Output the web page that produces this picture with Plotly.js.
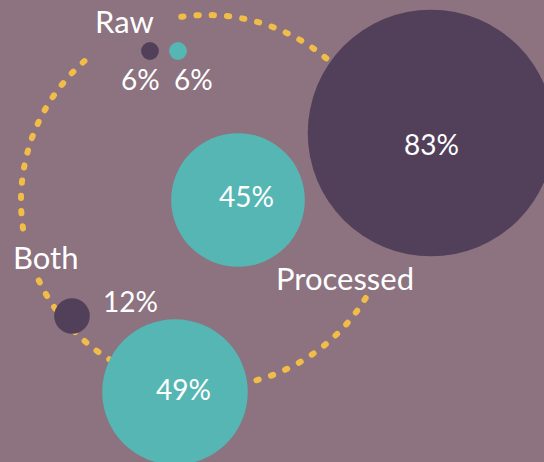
<!DOCTYPE html>
<html>
<head>
<meta charset="utf-8">
<script src="https://cdn.plot.ly/plotly-3.0.1.min.js"></script>
<style>
html, body { margin: 0; padding: 0; background: #8C737F; }
#chart { width: 544px; height: 462px; }
.shapelayer path { stroke-linecap: round; }
</style>
</head>
<body>
<div id="chart"></div>
<script>
// ---- data ----
const categories = ['Raw', 'Processed', 'Both'];
const purpleValues = [6, 83, 12];
const tealValues = [6, 45, 49];

// ---- layout (pixel-space positions of bubbles and labels) ----
const purpleX = [150, 431, 72];
const purpleY = [51, 133, 316];
const tealX = [178, 238, 175];
const tealY = [51, 200, 392];

const purpleLabelX = [140, 431, 130];
const purpleLabelY = [79, 144, 301];
const tealLabelX = [193, 246, 183];
const tealLabelY = [79, 196, 389];

const categoryLabelX = [124, 345, 46];
const categoryLabelY = [21, 278, 257];

const BG = '#8C737F';
const PURPLE = '#52405B';
const TEAL = '#56B6B4';
const YELLOW = '#F1BC48';
const FONT = 'Lato, "Open Sans", sans-serif';

// dashed ring
const ring = {cx: 207, cy: 201, r: 186};
function buildDash(R, gapsDeg, dash, space, cap) {
  const C = 2 * Math.PI * R;
  const gaps = gapsDeg.map(g => [g[0] * Math.PI / 180 * R, g[1] * Math.PI / 180 * R]);
  const arr = [];
  let s = 0;
  while (s < C) {
    const g = gaps.find(g => (s - cap) < g[1] && (s + dash + cap) > g[0]);
    if (g) {
      const skip = Math.max(g[1] + cap - s, 1);
      if (arr.length === 0) { arr.push(0); arr.push(skip); }
      else arr[arr.length - 1] += skip;
      s += skip;
      continue;
    }
    arr.push(dash); arr.push(space);
    s += dash + space;
  }
  return arr.map(v => v.toFixed(2) + 'px').join(',');
}
const ringDash = buildDash(ring.r, [[13, 30.5], [156.5, 170.5], [231, 261]], 2.3, 13, 3);

const scale = 2.97;

const traces = [
  {
    type: 'scatter', mode: 'markers', name: 'purple',
    x: purpleX, y: purpleY, text: categories,
    marker: {size: purpleValues, sizemode: 'diameter', sizeref: 1 / scale, color: PURPLE, opacity: 1, line: {width: 0}},
    hoverinfo: 'skip', cliponaxis: false
  },
  {
    type: 'scatter', mode: 'markers', name: 'teal',
    x: tealX, y: tealY, text: categories,
    marker: {size: tealValues, sizemode: 'diameter', sizeref: 1 / scale, color: TEAL, opacity: 1, line: {width: 0}},
    hoverinfo: 'skip', cliponaxis: false
  }
];

const annotations = [];
categories.forEach((c, i) => {
  annotations.push({x: categoryLabelX[i], y: categoryLabelY[i], text: c, showarrow: false,
    xanchor: 'center', yanchor: 'middle', font: {family: FONT, size: 31, color: '#FFFFFF'}});
  annotations.push({x: purpleLabelX[i], y: purpleLabelY[i], text: purpleValues[i] + '%', showarrow: false,
    xanchor: 'center', yanchor: 'middle', font: {family: FONT, size: 28, color: '#FFFFFF'}});
  annotations.push({x: tealLabelX[i], y: tealLabelY[i], text: tealValues[i] + '%', showarrow: false,
    xanchor: 'center', yanchor: 'middle', font: {family: FONT, size: 28, color: '#FFFFFF'}});
});

const layout = {
  width: 544, height: 462,
  margin: {l: 0, r: 0, t: 0, b: 0, pad: 0},
  paper_bgcolor: BG, plot_bgcolor: BG,
  showlegend: false,
  xaxis: {range: [0, 544], visible: false, fixedrange: true},
  yaxis: {range: [462, 0], visible: false, fixedrange: true},
  shapes: [{
    type: 'circle', layer: 'below', xref: 'x', yref: 'y',
    x0: ring.cx - ring.r, x1: ring.cx + ring.r, y0: ring.cy - ring.r, y1: ring.cy + ring.r,
    line: {color: YELLOW, width: 6, dash: ringDash}
  }],
  annotations: annotations
};

Plotly.newPlot('chart', traces, layout, {displayModeBar: false, staticPlot: true});
</script>
</body>
</html>
